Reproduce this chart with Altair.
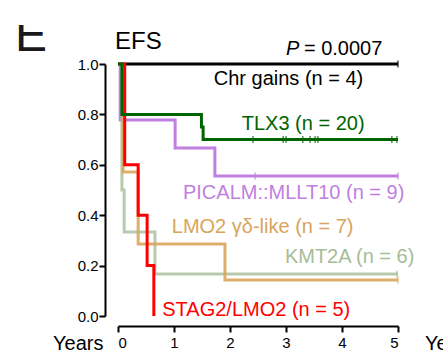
import altair as alt
import pandas as pd

# ---- data ----
groups = ["Chr gains", "TLX3", "PICALM::MLLT10", "LMO2 γδ-like", "KMT2A", "STAG2/LMO2"]
colors = ["#000000", "#006400", "#c17fe0", "#d9a55c", "#a6bd98", "#ff0000"]

chr_t = [0, 5];                          chr_s = [1, 1]
tlx3_t = [0, 0.07, 1.49, 1.52, 5];       tlx3_s = [1, 0.80, 0.75, 0.70, 0.70]
pic_t = [0, 0.04, 1.02, 1.73, 5];        pic_s = [1, 0.778, 0.667, 0.556, 0.556]
lmo_t = [0, 0.09, 0.36, 1.91, 5];        lmo_s = [1, 0.571, 0.286, 0.143, 0.143]
kmt_t = [0, 0.07, 0.11, 0.66, 5];        kmt_s = [1, 0.5, 0.333, 0.167, 0.167]
stag_t = [0, 0.12, 0.36, 0.52, 0.64];    stag_s = [1, 0.6, 0.4, 0.2, 0.0]

chr_c = [5.0]
tlx3_c = [2.41, 2.95, 3.0, 3.30, 3.43, 3.52, 3.57, 4.89, 4.98]
pic_c = [2.45, 5.0]
lmo_c = [5.0]
kmt_c = [4.98]
stag_c = []

labels = ["Chr gains (n = 4)", "TLX3 (n = 20)", "PICALM::MLLT10 (n = 9)",
          "LMO2 γδ-like (n = 7)", "KMT2A (n = 6)", "STAG2/LMO2 (n = 5)"]
label_x = [1.71, 2.21, 1.16, 0.96, 2.98, 0.79]
label_y = [0.917, 0.738, 0.464, 0.329, 0.21, 0.0]

p_text = "= 0.0007"
x_ticks = [0, 1, 2, 3, 4, 5]
y_ticks = [0, 0.2, 0.4, 0.6, 0.8, 1.0]

FONT = "Liberation Sans"

curves = [(chr_t, chr_s), (tlx3_t, tlx3_s), (pic_t, pic_s),
          (lmo_t, lmo_s), (kmt_t, kmt_s), (stag_t, stag_s)]
cens = [chr_c, tlx3_c, pic_c, lmo_c, kmt_c, stag_c]

color_scale = alt.Scale(domain=groups, range=colors)
xs = alt.Scale(domain=[0, 5], nice=False)
ys = alt.Scale(domain=[0, 1], nice=False)


def X(field):
    return alt.X(field, type="quantitative", scale=xs, title=None,
                 axis=alt.Axis(values=x_ticks, format="d", offset=10, tickSize=6,
                               labelPadding=3, grid=False))


def Y(field):
    return alt.Y(field, type="quantitative", scale=ys, title=None,
                 axis=alt.Axis(values=y_ticks, format=".1f", offset=13, tickSize=6,
                               labelPadding=1, grid=False))


draw_order = [0, 2, 4, 3, 5, 1]
opac = {0: 1, 1: 1, 2: 1, 3: 0.9, 4: 0.8, 5: 1}
layers = []
for i in draw_order:
    t, s = curves[i]
    df = pd.DataFrame({"t": t, "s": s, "g": groups[i], "o": range(len(t))})
    layers.append(
        alt.Chart(df).mark_line(interpolate="step-after", strokeWidth=3,
                                opacity=opac[i], strokeCap="butt")
        .encode(x=X("t"), y=Y("s"), order="o:Q",
                color=alt.Color("g:N", scale=color_scale, legend=None))
    )
    if cens[i]:
        yv = curves[i][1][-1]
        cdf = pd.DataFrame({"t": cens[i], "s": [yv] * len(cens[i]), "g": groups[i]})
        layers.append(
            alt.Chart(cdf).mark_tick(orient="vertical", size=7, thickness=1.5)
            .encode(x=X("t"), y=Y("s"),
                    color=alt.Color("g:N", scale=color_scale, legend=None))
        )

lab_df = pd.DataFrame({"label": labels, "x": label_x, "y": label_y, "g": groups})
layers.append(
    alt.Chart(lab_df).mark_text(align="left", baseline="alphabetic", fontSize=20, font=FONT)
    .encode(x=X("x"), y=Y("y"), text="label:N",
            color=alt.Color("g:N", scale=color_scale, legend=None))
)

p_df = pd.DataFrame({"x": [3.0], "y": [1.036], "txt": ["P"]})
layers.append(
    alt.Chart(p_df).mark_text(align="left", baseline="alphabetic", fontSize=20,
                              font=FONT, fontStyle="italic", color="black")
    .encode(x=X("x"), y=Y("y"), text="txt:N")
)
p2_df = pd.DataFrame({"x": [3.32], "y": [1.036], "txt": [p_text]})
layers.append(
    alt.Chart(p2_df).mark_text(align="left", baseline="alphabetic", fontSize=20,
                               font=FONT, color="black")
    .encode(x=X("x"), y=Y("y"), text="txt:N")
)

# decorations: title, axis words, panel letter
deco = pd.DataFrame({"k": [0]})
base = alt.Chart(deco)
layers.append(base.mark_text(text="EFS", align="left", baseline="alphabetic",
                             fontSize=24, font=FONT, color="black")
              .encode(x=alt.value(-3), y=alt.value(-15)))
layers.append(base.mark_text(text="Years", align="left", baseline="alphabetic",
                             fontSize=20, font=FONT, color="black")
              .encode(x=alt.value(-65), y=alt.value(286)))
layers.append(base.mark_text(text="Years", align="left", baseline="alphabetic",
                             fontSize=20, font=FONT, color="black")
              .encode(x=alt.value(307), y=alt.value(286)))
layers.append(base.mark_text(text="E", align="left", baseline="alphabetic",
                             fontSize=48, font=FONT, color="#1a1a1a")
              .encode(x=alt.value(-103), y=alt.value(-13)))
layers.append(base.mark_rect(color="white")
              .encode(x=alt.value(-118), x2=alt.value(-50),
                      y=alt.value(-64), y2=alt.value(-39)))

chart = alt.layer(*layers).properties(
    width=280, height=252,
    autosize=alt.AutoSizeParams(type="none"),
    padding={"left": 118, "top": 64, "right": 45, "bottom": 44},
).configure_view(stroke=None).configure_axis(
    domainColor="black", domainWidth=2, tickColor="black", tickWidth=2,
    labelFont=FONT, labelFontSize=15, labelColor="black",
)

chart.save("out.html", embed_options={"renderer": "svg", "actions": False})
